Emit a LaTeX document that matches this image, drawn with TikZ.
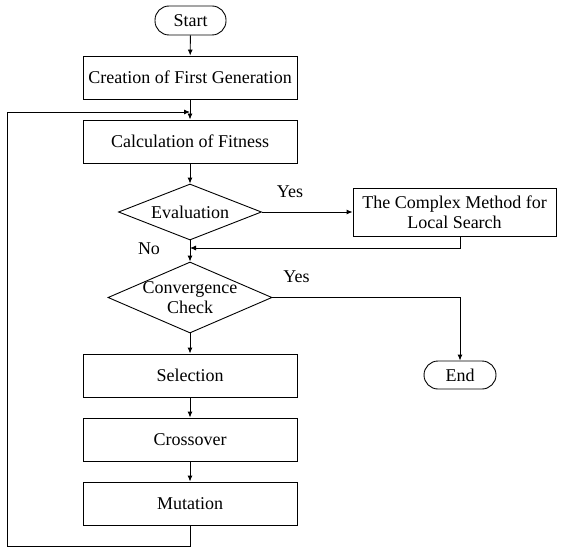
\documentclass[tikz,border=0pt]{standalone}
\usepackage{fontspec}
\setmainfont{Liberation Serif}
\usetikzlibrary{arrows.meta,shapes.geometric}
\begin{document}
\begin{tikzpicture}[x=1pt,y=-1pt,
  font=\fontsize{18}{20.5}\selectfont,
  line width=0.9pt,
  box/.style={draw, rectangle, minimum width=214pt, minimum height=43pt, inner sep=0pt, align=center},
  term/.style={draw, rectangle, rounded corners=14pt, inner sep=0pt},
  dec/.style={draw, diamond, inner sep=0pt},
  arr/.style={-{Latex[length=6pt,width=5pt]}},
  lbl/.style={inner sep=0pt}
]
\useasboundingbox (0,0) rectangle (564,548);
\node[term, minimum width=71pt, minimum height=29pt] (start) at (190.5,20.5) {Start};
\node[box] (create) at (190,77.5) {Creation of First Generation};
\node[box] (calc) at (190,141.5) {Calculation of Fitness};
\node[dec, minimum width=143pt, minimum height=56pt, label={[lbl]center:Evaluation}] (eval) at (190,212) {};
\node[box, minimum width=203pt, minimum height=48pt] (cms) at (454.5,212) {The Complex Method for\\Local Search};
\node[dec, minimum width=164pt, minimum height=71pt, label={[lbl, align=center]center:Convergence\\Check}] (conv) at (190,297.5) {};
\node[box] (sel) at (190,375.5) {Selection};
\node[box] (cross) at (190,439.5) {Crossover};
\node[box] (mut) at (190,503.5) {Mutation};
\node[term, minimum width=72pt, minimum height=28pt] (stop) at (460,375) {End};

\node[lbl] (yes1) at (290,192) {Yes};
\node[lbl] (yes2) at (296.5,277) {Yes};
\node[lbl] (no) at (149,249) {No};

\coordinate (fbend) at (190,248);
\coordinate (loopin) at (190,112);
\coordinate (lb) at (7,546);

\draw[arr] (start) -- (create);
\draw[arr] (create) -- (calc);
\draw[arr] (calc) -- (eval);
\draw[arr] (eval.east) -- (cms.west);
\draw[arr] (cms.south -| stop.north) |- (fbend);
\draw[arr] (eval.south) -- (conv.north);
\draw[arr] (conv.east) -| (stop.north);
\draw[arr] (conv.south) -- (sel.north);
\draw[arr] (sel) -- (cross);
\draw[arr] (cross) -- (mut);
\draw[arr] (mut.south) |- (lb) |- (loopin);
\end{tikzpicture}
\end{document}
